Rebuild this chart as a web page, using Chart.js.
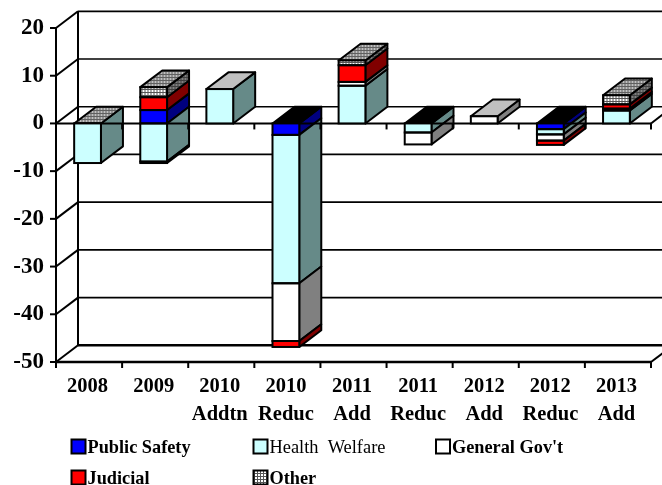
<!DOCTYPE html>
<html>
<head>
<meta charset="utf-8">
<style>html,body{margin:0;padding:0;background:#fff}canvas{display:block}</style>
<script src="https://cdn.jsdelivr.net/npm/chart.js@4"></script>
</head>
<body>
<canvas id="c" width="662" height="485"></canvas>
<script>
const categories = [["2008",""],["2009",""],["2010","Addtn"],["2010","Reduc"],["2011","Add"],["2011","Reduc"],["2012","Add"],["2012","Reduc"],["2013","Add"]];
const publicSafety  = [0, 2.8, 0, -2.4, 0, 0, 0, -1.2, 0];
const healthWelfare = [-8.3, -8, 7.2, -31.1, 7.9, -1.9, 0, -1.1, 2.7];
const generalGov    = [0, -0.3, 0, -12.1, 0.8, -2.5, 1.5, -1.3, 0.4];
const judicial      = [0, 2.7, 0, -1.25, 3.5, 0, 0, -0.9, 0.9];
const other         = [0, 2.1, 0, 0, 1, 0, 0, 0, 1.9];
const yTicks = [20, 10, 0, -10, -20, -30, -40, -50];
const capKinds = ["hatch","hatch","grey","black","hatch","black","grey","black","hatch"];

const DX = 22, DY = 16.7, SHIFT = -1.5;
function hatch(bg, line){
  const t = document.createElement('canvas'); t.width = 3; t.height = 3;
  const g = t.getContext('2d');
  g.fillStyle = bg; g.fillRect(0,0,3,3);
  g.fillStyle = line; g.fillRect(2,0,1,3); g.fillRect(0,2,3,1);
  return g.canvas;
}
const ctx0 = document.getElementById('c').getContext('2d');
const hatchFront = ctx0.createPattern(hatch('#ffffff','#555555'),'repeat');
const hatchSide  = ctx0.createPattern(hatch('#808080','#404040'),'repeat');
const hatchTop   = ctx0.createPattern(hatch('#c0c0c0','#606060'),'repeat');
const sideFills = [ '#000080', '#668a88', '#808080', '#800000', hatchSide ];
const capFills = { hatch: hatchTop, grey: '#c0c0c0', black: '#000000' };

function line(c, x1, y1, x2, y2, w){
  c.lineWidth = w || 2; c.beginPath(); c.moveTo(x1,y1); c.lineTo(x2,y2); c.stroke();
}
function poly(c, pts, fill){
  c.beginPath(); pts.forEach((p,i)=> i? c.lineTo(p[0],p[1]) : c.moveTo(p[0],p[1])); c.closePath();
  c.fillStyle = fill; c.fill(); c.lineWidth = 2; c.strokeStyle = '#000'; c.lineJoin='round'; c.stroke();
}

const legendEntries = [
  {col:71.5, row:446, idx:0, font:'bold 18.3px "Liberation Serif"'},
  {col:253.5, row:446, idx:1, font:'18.4px "Liberation Serif"'},
  {col:436, row:446, idx:2, font:'bold 18.3px "Liberation Serif"'},
  {col:71.5, row:477, idx:3, font:'bold 18.3px "Liberation Serif"'},
  {col:253.5, row:477, idx:4, font:'bold 18.3px "Liberation Serif"'}
];

const depth3d = {
  id:'depth3d',
  beforeDatasetsDraw(chart){
    const c = chart.ctx, y = chart.scales.y, x = chart.scales.x;
    const L = chart.chartArea.left, R = chart.chartArea.right;
    const W = chart.width;
    c.save();
    c.strokeStyle = '#000';
    // walls and gridlines
    yTicks.forEach(v=>{
      const p = y.getPixelForValue(v);
      line(c, L-6, p, L, p);
      line(c, L, p, L+DX, p-DY);
      line(c, L+DX, p-DY, W+2, p-DY, v===-50?2.5:1.7);
    });
    line(c, L, y.getPixelForValue(20), L, y.getPixelForValue(-50), 2);
    line(c, L+DX, y.getPixelForValue(20)-DY, L+DX, y.getPixelForValue(-50)-DY, 2);
    // floor axis
    const by = y.getPixelForValue(-50);
    line(c, L, by, R, by, 2.5);
    line(c, R, by, R+DX, by-DY, 2);
    for(let i=0;i<=categories.length;i++){
      const tx = L + (R-L)*i/categories.length;
      line(c, tx, by, tx, by+6, 2);
    }
    // sides and caps of the bars
    c.save();
    c.translate(SHIFT,0);
    categories.forEach((_,i)=>{
      let top = Infinity, xr = 0, xl = 0;
      chart.data.datasets.forEach((d,di)=>{
        const el = chart.getDatasetMeta(di).data[i];
        xr = el.x + el.width/2; xl = el.x - el.width/2;
        top = Math.min(top, el.y, el.base);
      });
      chart.data.datasets.forEach((d,di)=>{
        const el = chart.getDatasetMeta(di).data[i];
        if(Math.abs(el.base-el.y) < 0.1) return;
        const a = Math.min(el.y, el.base), b = Math.max(el.y, el.base);
        poly(c, [[xr,a],[xr+DX,a-DY],[xr+DX,b-DY],[xr,b]], sideFills[di]);
      });
      poly(c, [[xl,top],[xl+DX,top-DY],[xr+DX,top-DY],[xr,top]], capFills[capKinds[i]]);
    });
    c.restore();
    // zero axis passes over the side faces
    const zy = y.getPixelForValue(0);
    line(c, L, zy, R, zy, 2);
    line(c, R, zy, R+DX, zy-DY, 2);
    for(let i=0;i<=categories.length;i++){
      const tx = L + (R-L)*i/categories.length;
      line(c, tx, zy, tx, zy+6, 2);
    }
    c.restore();
    c.save();
    c.translate(SHIFT,0);
  },
  afterDatasetsDraw(chart){
    const c = chart.ctx;
    c.strokeStyle = '#000';
    c.lineWidth = 2;
    chart.data.datasets.forEach((d,di)=>{
      chart.getDatasetMeta(di).data.forEach(el=>{
        if(Math.abs(el.base-el.y) < 0.1) return;
        c.strokeRect(el.x-el.width/2, Math.min(el.y,el.base), el.width, Math.abs(el.base-el.y));
      });
    });
    c.restore();
    // legend
    c.save();
    legendEntries.forEach(e=>{
      const d = chart.data.datasets[e.idx];
      c.fillStyle = d.backgroundColor;
      c.fillRect(e.col, e.row-6.5, 14, 14);
      c.strokeStyle='#000'; c.lineWidth=2;
      c.strokeRect(e.col, e.row-6.5, 14, 14);
      c.fillStyle='#000'; c.font=e.font; c.textBaseline='alphabetic'; c.textAlign='left';
      c.fillText(d.label, e.col+16, e.row+6.5);
    });
    c.restore();
  }
};

function ds(label, data, color){
  return {label, data, backgroundColor:color, borderWidth:0, inflateAmount:0, stack:'s', clip:false,
          categoryPercentage:1, barPercentage:0.405};
}
new Chart(document.getElementById('c'),{
  type:'bar',
  data:{labels:categories, datasets:[
    ds('Public Safety', publicSafety, '#0000ff'),
    ds('Health  Welfare', healthWelfare, '#ccffff'),
    ds("General Gov't", generalGov, '#ffffff'),
    ds('Judicial', judicial, '#ff0000'),
    ds('Other', other, hatchFront)
  ]},
  options:{
    responsive:false, animation:false,
    layout:{padding:{left:0,right:11,top:28,bottom:0}},
    plugins:{legend:{display:false},tooltip:{enabled:false},title:{display:false}},
    scales:{
      x:{stacked:true, grid:{display:false}, border:{display:false},
         ticks:{color:'#000',autoSkip:false,maxRotation:0,minRotation:0,padding:3,labelOffset:-1.5,
                font:{family:'"Liberation Serif"',size:20.5,weight:'bold',lineHeight:1.35}},
         afterFit(s){s.height=123;}},
      y:{stacked:true,min:-50,max:20,grid:{display:false},border:{display:false},
         afterBuildTicks(s){s.ticks=yTicks.map(v=>({value:v}));},
         ticks:{color:'#000',padding:4,font:{family:'"Liberation Serif"',size:23,weight:'bold'}},
         afterFit(s){s.width=56;}}
    }
  },
  plugins:[depth3d]
});
</script>
</body>
</html>
